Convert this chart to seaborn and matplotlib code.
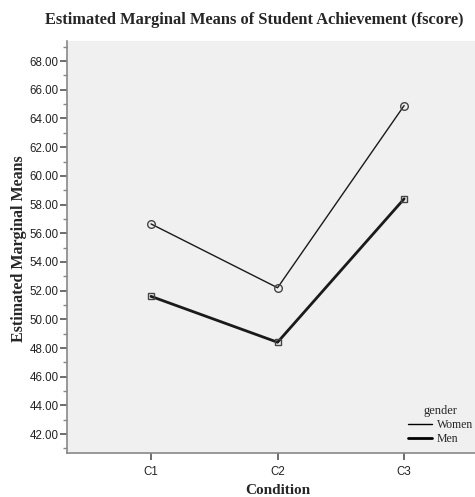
import matplotlib
matplotlib.use("Agg")
import matplotlib.pyplot as plt
import seaborn as sns
import pandas as pd
from matplotlib.lines import Line2D
from matplotlib.ticker import MultipleLocator, FormatStrFormatter

conditions = ["C1", "C2", "C3"]
women = [56.65, 52.2, 64.9]
men = [51.6, 48.4, 58.4]
genders = ["Women", "Men"]

df = pd.DataFrame({
    "Condition": conditions * 2,
    "score": women + men,
    "gender": ["Women"] * 3 + ["Men"] * 3,
})

sns.set_theme(style="white")
plt.rcParams["font.family"] = ["Liberation Serif", "DejaVu Serif"]

fig = plt.figure(figsize=(4.75, 4.97), dpi=100)
ax = fig.add_axes([0.141, 0.0885, 0.859, 0.829])
ax.set_facecolor("#F0F0F0")

styles = {
    "Women": dict(lw=1.0, marker="o", ms=5.5),
    "Men": dict(lw=2.0, marker="s", ms=5.0),
}
for g in genders:
    sub = df[df["gender"] == g]
    sns.lineplot(data=sub, x="Condition", y="score", ax=ax, color="#1a1a1a",
                 linewidth=styles[g]["lw"], marker=styles[g]["marker"],
                 markersize=styles[g]["ms"], markerfacecolor="none",
                 markeredgecolor="#444444", markeredgewidth=1.0, legend=False)

ax.set_xlim(-0.664, 2.56)
ax.set_ylim(40.68, 69.4)
ax.yaxis.set_major_locator(MultipleLocator(2))
ax.yaxis.set_minor_locator(MultipleLocator(1))
ax.yaxis.set_major_formatter(FormatStrFormatter("%.2f"))

for s in ["top", "right"]:
    ax.spines[s].set_visible(False)
for s in ["left", "bottom"]:
    ax.spines[s].set_color("#888888")
    ax.spines[s].set_linewidth(1.2)

ax.tick_params(axis="y", which="major", length=5, width=1.2, color="#555555",
               labelsize=8.3, pad=1, left=True)
ax.tick_params(axis="y", which="minor", length=3, width=1.0, color="#888888", left=True)
ax.tick_params(axis="x", which="major", length=5, width=1.2, color="#555555",
               labelsize=8.3, pad=4, bottom=True)
for lab in ax.get_yticklabels() + ax.get_xticklabels():
    lab.set_fontfamily(["Liberation Sans", "DejaVu Sans"])
    lab.set_color("#222222")

ax.set_xlabel("")
ax.set_ylabel("")
fig.text(0.585, 0.014, "Condition", ha="center", va="center",
         fontsize=11, fontweight="bold")
fig.text(0.04, 0.5, "Estimated Marginal Means", ha="center", va="center",
         rotation=90, fontsize=11.5, fontweight="bold")
fig.text(0.535, 0.96, "Estimated Marginal Means of Student Achievement (fscore)",
         ha="center", va="center", fontsize=11.8, fontweight="bold")

handles = [Line2D([0], [0], color="black", lw=styles[g]["lw"]) for g in genders]
leg = ax.legend(handles, genders, title="gender", loc="lower right",
                bbox_to_anchor=(1.015, 0.0), frameon=False, fontsize=8.5,
                title_fontsize=9, handlelength=2.0, handletextpad=0.4,
                labelspacing=0.15, borderaxespad=0.3)
leg._legend_box.align = "center"

fig.savefig("out.png", dpi=100)
